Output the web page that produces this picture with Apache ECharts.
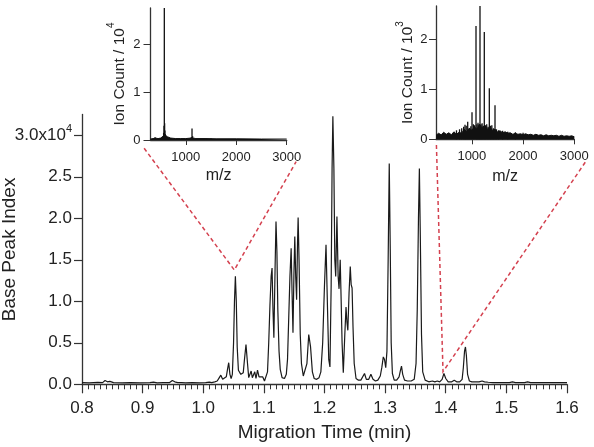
<!DOCTYPE html>
<html><head><meta charset="utf-8">
<script src="https://cdn.jsdelivr.net/npm/echarts@6/dist/echarts.min.js"></script>
<style>html,body{margin:0;padding:0;background:#fff}#c{width:594px;height:447px}</style>
</head><body><div id="c"></div>
<script>
// Main electropherogram: [migration time (min), base peak index (x10^4)]
const mainTrace = [
[0.800,0.020],[0.812,0.018],[0.826,0.022],[0.834,0.020],[0.838,0.045],[0.842,0.030],[0.846,0.036],[0.852,0.020],[0.866,0.018],[0.880,0.020],
[0.896,0.018],[0.912,0.020],[0.918,0.026],[0.924,0.018],[0.934,0.020],[0.944,0.020],[0.949,0.046],[0.953,0.030],[0.958,0.020],[0.964,0.020],
[0.967,0.036],[0.971,0.018],[0.982,0.020],[0.994,0.018],[1.004,0.020],[1.010,0.026],[1.014,0.020],[1.019,0.030],[1.023,0.040],[1.026,0.075],
[1.029,0.110],[1.032,0.060],[1.035,0.040],[1.038,0.090],[1.040,0.180],[1.042,0.260],[1.044,0.120],[1.046,0.070],[1.048,0.120],[1.050,0.500],
[1.0515,1.000],[1.053,1.300],[1.0545,1.000],[1.056,0.450],[1.058,0.170],[1.060,0.160],[1.062,0.120],[1.064,0.100],[1.066,0.140],[1.068,0.300],
[1.0705,0.480],[1.073,0.250],[1.075,0.080],[1.077,0.080],[1.079,0.160],[1.081,0.080],[1.083,0.070],[1.085,0.150],[1.087,0.070],[1.0895,0.170],
[1.092,0.090],[1.095,0.070],[1.098,0.090],[1.101,0.040],[1.104,0.060],[1.106,0.150],[1.108,0.500],[1.110,0.950],[1.112,1.300],[1.1135,1.400],
[1.115,0.900],[1.1165,0.560],[1.1185,1.400],[1.120,1.960],[1.1215,1.600],[1.123,0.900],[1.125,0.400],[1.127,0.180],[1.130,0.080],[1.134,0.070],
[1.137,0.120],[1.139,0.300],[1.141,0.800],[1.143,1.300],[1.145,1.640],[1.1465,1.100],[1.148,0.620],[1.1495,1.300],[1.151,1.780],[1.1525,1.300],
[1.154,1.020],[1.1555,1.700],[1.1565,2.010],[1.158,1.500],[1.160,0.600],[1.162,0.250],[1.165,0.100],[1.168,0.090],[1.171,0.250],[1.174,0.600],
[1.177,0.450],[1.180,0.150],[1.183,0.070],[1.187,0.060],[1.191,0.080],[1.194,0.150],[1.197,0.500],[1.200,1.200],[1.2025,1.680],[1.205,0.900],
[1.207,0.300],[1.209,0.210],[1.211,1.200],[1.2125,2.600],[1.2138,3.230],[1.2155,2.600],[1.217,1.500],[1.2185,1.300],[1.2205,2.020],[1.2225,1.300],
[1.224,1.150],[1.2259,1.500],[1.2275,1.000],[1.229,0.500],[1.231,0.140],[1.2335,0.600],[1.2355,0.930],[1.237,0.750],[1.2385,0.650],[1.2405,1.100],
[1.2425,1.420],[1.244,1.200],[1.2455,1.160],[1.247,0.700],[1.249,0.250],[1.252,0.070],[1.256,0.050],[1.260,0.050],[1.263,0.070],[1.266,0.130],
[1.269,0.060],[1.273,0.060],[1.2765,0.120],[1.280,0.060],[1.284,0.040],[1.288,0.050],[1.292,0.100],[1.2945,0.200],[1.297,0.330],[1.299,0.300],
[1.301,0.200],[1.303,0.400],[1.305,1.500],[1.3068,2.660],[1.3085,1.600],[1.310,0.500],[1.312,0.130],[1.315,0.050],[1.319,0.050],[1.323,0.090],
[1.325,0.160],[1.327,0.220],[1.329,0.120],[1.332,0.050],[1.337,0.040],[1.343,0.040],[1.348,0.060],[1.351,0.250],[1.353,0.900],[1.355,2.000],
[1.3565,2.600],[1.358,1.800],[1.360,0.600],[1.362,0.150],[1.366,0.050],[1.372,0.030],[1.378,0.040],[1.382,0.030],[1.386,0.040],[1.390,0.030],
[1.394,0.060],[1.397,0.130],[1.400,0.070],[1.404,0.030],[1.410,0.030],[1.414,0.050],[1.418,0.030],[1.423,0.030],[1.427,0.060],[1.429,0.200],
[1.431,0.400],[1.4325,0.450],[1.434,0.350],[1.436,0.120],[1.439,0.040],[1.443,0.030],[1.449,0.030],[1.455,0.030],[1.460,0.040],[1.464,0.030],
[1.470,0.025],[1.478,0.020],[1.488,0.020],[1.498,0.020],[1.505,0.020],[1.510,0.030],[1.515,0.020],[1.522,0.020],[1.530,0.020],[1.535,0.030],
[1.540,0.020],[1.550,0.020],[1.562,0.020],[1.575,0.020],[1.588,0.020],[1.600,0.020]
];
const mainYTicks = [0, 0.5, 1.0, 1.5, 2.0, 2.5, 3.0];

// Inset 1 (spectrum at ~1.05 min): [m/z, ion count (x10^4)]
const inset1Spikes = [
[390,0.06],[470,0.03],[520,0.04],[545,0.08],[560,0.15],[568,0.30],[574,2.90],[580,0.35],[586,0.20],[595,0.12],
[610,0.08],[640,0.05],[700,0.04],[780,0.03],[1110,0.06],[1123,0.24],[1135,0.08],[1500,0.03]
];
const inset1Noise = [
[300,0.02],[350,0.03],[400,0.04],[450,0.03],[500,0.04],[540,0.07],[560,0.10],[580,0.12],[600,0.09],[630,0.07],
[660,0.05],[700,0.04],[800,0.03],[900,0.03],[1000,0.03],[1100,0.04],[1150,0.04],[1200,0.03],[1400,0.03],[1600,0.025],
[2000,0.025],[2500,0.02],[3000,0.02]
];
const inset1YTicks = [0, 1, 2];

// Inset 2 (spectrum at ~1.40 min): [m/z, ion count (x10^3)]
const inset2Spikes = [
[700,0.18],[760,0.20],[802,0.22],[840,0.25],[866,0.29],[890,0.27],[919,0.35],[950,0.22],[980,0.26],[1003,0.54],
[1030,0.30],[1055,0.28],[1081,2.26],[1100,0.30],[1120,0.33],[1140,0.30],[1159,2.80],[1180,0.30],[1200,0.32],[1220,0.27],
[1243,2.14],[1265,0.28],[1290,0.30],[1315,0.25],[1341,1.02],[1365,0.27],[1390,0.28],[1420,0.22],[1452,0.68],[1480,0.20],
[1520,0.18],[1600,0.17],[1700,0.15],[1850,0.14],[2000,0.13]
];
const inset2Noise = [
[300,0.08],[350,0.12],[400,0.09],[450,0.14],[500,0.10],[550,0.13],[600,0.09],[650,0.15],[700,0.10],[750,0.14],
[800,0.12],[850,0.20],[900,0.15],[950,0.22],[1000,0.18],[1050,0.25],[1100,0.20],[1150,0.30],[1200,0.22],[1250,0.28],
[1300,0.20],[1350,0.25],[1400,0.18],[1450,0.20],[1500,0.15],[1550,0.17],[1600,0.13],[1650,0.15],[1700,0.12],[1750,0.13],
[1800,0.10],[1850,0.12],[1900,0.10],[1950,0.11],[2000,0.09],[2050,0.11],[2100,0.09],[2150,0.10],[2200,0.08],[2250,0.10],
[2300,0.08],[2350,0.09],[2400,0.07],[2450,0.09],[2500,0.07],[2550,0.08],[2600,0.07],[2650,0.08],[2700,0.06],[2750,0.08],
[2800,0.06],[2850,0.07],[2900,0.06],[2950,0.07],[3000,0.05]
];
const inset2YTicks = [0, 1, 2];
const insetXTicks = [1000, 2000, 3000];

// Zoom connectors, in main-plot data coordinates [time, BPI x10^4]
const leftConnector = [[0.9025,2.843],[1.0512,1.377],[1.1532,2.682]];
const rightConnector = [[1.3846,2.883],[1.3955,0.152],[1.6326,2.702]];

const FONT = '"Liberation Sans", Arial, sans-serif';
const AX = '#333';
const TXT = '#222';

const chart = echarts.init(document.getElementById('c'), null, {renderer:'canvas'});

function insetX(idx, gap) {
  return {
    type:'value', gridIndex: idx, min:300, max:3000,
    axisLine:{show:true, onZero:false, lineStyle:{color:AX, width:1.3}},
    axisTick:{show:true, inside:false, length:5, customValues: insetXTicks, lineStyle:{color:AX}},
    axisLabel:{fontSize:13, color:TXT, margin:11, customValues: insetXTicks, fontFamily:FONT, formatter: v => String(v)},
    splitLine:{show:false},
    name:'m/z', nameLocation:'middle', nameGap:gap, nameMoveOverlap:false,
    nameTextStyle:{fontSize:16, color:TXT, fontFamily:FONT}
  };
}
function insetY(idx, max, ticks, exp, gap, margin) {
  return {
    type:'value', gridIndex: idx, min:0, max:max,
    axisLine:{show:true, onZero:false, lineStyle:{color:AX, width:1.3}},
    axisTick:{show:true, inside:false, length:7, customValues: ticks, lineStyle:{color:AX}},
    axisLabel:{fontSize:13, color:TXT, margin:margin, customValues: ticks, fontFamily:FONT, formatter: v => String(v)},
    splitLine:{show:false},
    name:'{n|Ion Count / 10}{s|' + exp + '}', nameLocation:'middle', nameGap:gap, nameMoveOverlap:false,
    nameTextStyle:{color:TXT, fontFamily:FONT,
      rich:{ n:{fontSize:15.5, lineHeight:16, color:TXT, fontFamily:FONT},
             s:{fontSize:10, lineHeight:10, color:TXT, fontFamily:FONT, padding:[0,0,16,0]} } }
  };
}

const option = {
  animation:false,
  backgroundColor:'#fff',
  textStyle:{fontFamily:FONT},
  grid:[
    {left:82, right:27, top:114.5, bottom:62.7, containLabel:false, outerBoundsMode:'none'},
    {left:150.5, right:307.3, top:8, bottom:307, containLabel:false, outerBoundsMode:'none'},
    {left:436, right:19.7, top:6, bottom:307.7, containLabel:false, outerBoundsMode:'none'}
  ],
  xAxis:[
    { type:'value', gridIndex:0, min:0.8, max:1.6, interval:0.1,
      axisLine:{show:true, onZero:false, lineStyle:{color:AX, width:1.3}},
      axisTick:{show:true, inside:false, length:9, lineStyle:{color:AX, width:1.2}},
      minorTick:{show:true, splitNumber:10, length:5, lineStyle:{color:AX, width:1}},
      axisLabel:{fontSize:17, color:TXT, margin:16, fontFamily:FONT, formatter:v=>v.toFixed(1)},
      splitLine:{show:false},
      name:'Migration Time (min)', nameLocation:'middle', nameGap:39, nameMoveOverlap:false,
      nameTextStyle:{fontSize:19, color:TXT, fontFamily:FONT} },
    insetX(1, 28),
    insetX(2, 29)
  ],
  yAxis:[
    { type:'value', gridIndex:0, min:0, max:3.25, position:'left',
      axisLine:{show:true, onZero:false, lineStyle:{color:AX, width:1.3}},
      axisTick:{show:true, inside:false, length:8, customValues: mainYTicks, lineStyle:{color:AX, width:1.2}},
      axisLabel:{color:TXT, margin:10, customValues: mainYTicks, fontFamily:FONT,
        formatter: v => Math.abs(v-3) < 1e-9 ? '{b|3.0x10}{s|4}' : '{b|' + v.toFixed(1) + '}',
        rich:{ b:{fontSize:17, lineHeight:17, color:TXT, fontFamily:FONT},
               s:{fontSize:11, lineHeight:11, color:TXT, fontFamily:FONT, padding:[0,0,12,0]} } },
      splitLine:{show:false},
      name:'Base Peak Index', nameLocation:'middle', nameGap:63, nameMoveOverlap:false,
      nameTextStyle:{fontSize:19, color:TXT, fontFamily:FONT} },
    insetY(1, 2.76, inset1YTicks, '4', 23, 10),
    insetY(2, 2.66, inset2YTicks, '3', 20, 8.5)
  ],
  series:[
    { type:'line', xAxisIndex:0, yAxisIndex:0, data:mainTrace, symbol:'none', clip:true,
      lineStyle:{color:'#1a1a1a', width:1.2} },
    { type:'line', xAxisIndex:1, yAxisIndex:1, data:inset1Noise, symbol:'none', clip:true,
      lineStyle:{color:'#111', width:1}, areaStyle:{color:'#111', opacity:1} },
    { type:'bar', xAxisIndex:1, yAxisIndex:1, data:inset1Spikes, barWidth:1.3, clip:true,
      itemStyle:{color:'#111'} },
    { type:'line', xAxisIndex:2, yAxisIndex:2, data:inset2Noise, symbol:'none', clip:true,
      lineStyle:{color:'#111', width:1}, areaStyle:{color:'#111', opacity:1} },
    { type:'bar', xAxisIndex:2, yAxisIndex:2, data:inset2Spikes, barWidth:1.3, clip:true,
      itemStyle:{color:'#111'} }
  ]
};
chart.setOption(option);

function toPx(pts) { return pts.map(p => chart.convertToPixel({gridIndex:0}, p)); }
const dash = {stroke:'#d4414f', lineWidth:1.5, lineDash:[4,3], fill:null};
chart.setOption({
  graphic:[
    {type:'polyline', shape:{points: toPx(leftConnector)}, style:dash, z:100, silent:true},
    {type:'polyline', shape:{points: toPx(rightConnector)}, style:dash, z:100, silent:true}
  ]
});
</script>
</body></html>
